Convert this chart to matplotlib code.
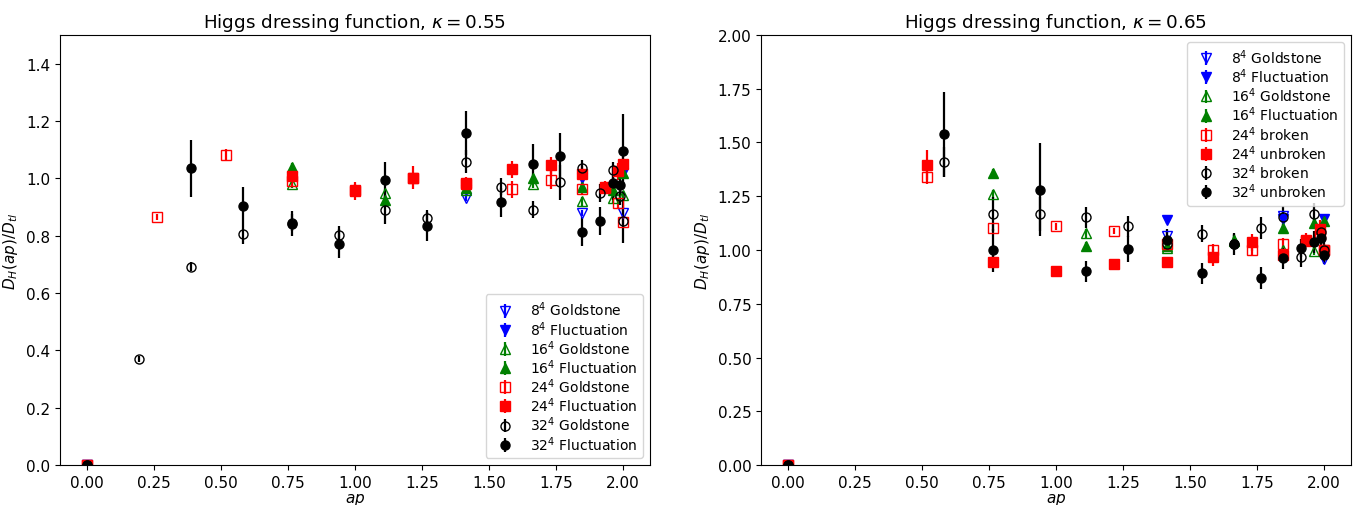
import numpy as np
import matplotlib
matplotlib.use('Agg')
import matplotlib.pyplot as plt

plt.rcParams['font.size'] = 11

# kappa = 0.55
x8 = [0, 1.414, 1.848, 2.0]
k55_8g = [0, 0.93, 0.88, 0.88]
k55_8g_err = [0.005, 0.01, 0.01, 0.01]
k55_8f = [0, 0.96, 1.00, 1.02]
k55_8f_err = [0.005, 0.01, 0.01, 0.01]

x16 = [0, 0.765, 1.111, 1.414, 1.663, 1.848, 1.962, 2.0]
k55_16g = [0, 0.98, 0.947, 0.96, 0.98, 0.92, 0.93, 0.94]
k55_16g_err = [0.005, 0.015, 0.015, 0.015, 0.015, 0.015, 0.015, 0.015]
k55_16f = [0, 1.04, 0.923, 0.965, 1.0, 0.97, 0.96, 1.02]
k55_16f_err = [0.005, 0.015, 0.015, 0.015, 0.015, 0.015, 0.015, 0.015]

x24g_55 = [0, 0.261, 0.518, 0.765, 1.0, 1.218, 1.414, 1.587, 1.732, 1.848, 1.932, 1.983, 2.0]
k55_24g = [0, 0.865, 1.081, 0.99, 0.96, 1.0, 0.98, 0.962, 0.994, 0.961, 0.97, 0.913, 0.849]
k55_24g_err = [0.005, 0.01, 0.02, 0.02, 0.02, 0.02, 0.02, 0.03, 0.03, 0.02, 0.02, 0.02, 0.02]
x24f_55 = [0, 0.765, 1.0, 1.218, 1.414, 1.587, 1.732, 1.848, 1.932, 1.983, 2.0]
k55_24f = [0, 1.008, 0.956, 1.002, 0.984, 1.031, 1.045, 1.014, 0.967, 1.025, 1.049]
k55_24f_err = [0.005, 0.02, 0.03, 0.04, 0.02, 0.03, 0.03, 0.03, 0.02, 0.03, 0.03]

x32g_55 = [0, 0.196, 0.390, 0.581, 0.765, 0.942, 1.111, 1.269, 1.414, 1.546, 1.663,
           1.764, 1.848, 1.914, 1.962, 1.990, 2.0]
k55_32g = [0, 0.369, 0.692, 0.805, 0.845, 0.802, 0.891, 0.861, 1.057, 0.970, 0.890,
           0.986, 1.035, 0.949, 1.028, 0.938, 0.85]
k55_32g_err = [0.005, 0.01, 0.015, 0.035, 0.03, 0.03, 0.05, 0.03, 0.04, 0.03, 0.03,
               0.06, 0.03, 0.03, 0.03, 0.03, 0.077]
x32f_55 = [0, 0.390, 0.581, 0.765, 0.942, 1.111, 1.269, 1.414, 1.546, 1.663, 1.764,
           1.848, 1.914, 1.962, 1.990, 2.0]
k55_32f = [0, 1.035, 0.905, 0.842, 0.772, 0.993, 0.833, 1.157, 0.916, 1.050, 1.078,
           0.814, 0.851, 0.984, 0.977, 1.095]
k55_32f_err = [0.005, 0.10, 0.066, 0.045, 0.05, 0.063, 0.05, 0.076, 0.05, 0.07, 0.08,
               0.05, 0.05, 0.06, 0.06, 0.13]

# kappa = 0.65
k65_8g = [0, 1.067, 1.16, 0.96]
k65_8g_err = [0.005, 0.02, 0.02, 0.02]
k65_8f = [0, 1.141, 1.145, 1.144]
k65_8f_err = [0.005, 0.02, 0.02, 0.02]

k65_16g = [0, 1.26, 1.078, 1.01, 1.04, 1.0, 0.997, 1.0]
k65_16g_err = [0.005, 0.02, 0.02, 0.02, 0.03, 0.02, 0.02, 0.02]
k65_16f = [0, 1.358, 1.017, 1.02, 1.045, 1.102, 1.125, 1.133]
k65_16f_err = [0.005, 0.02, 0.02, 0.02, 0.03, 0.02, 0.02, 0.02]

x24_65 = [0, 0.518, 0.765, 1.0, 1.218, 1.414, 1.587, 1.732, 1.848, 1.932, 1.983, 2.0]
k65_24g = [0, 1.338, 1.104, 1.110, 1.088, 1.03, 1.0, 1.0, 1.028, 1.04, 1.07, 1.0]
k65_24g_err = [0.005, 0.03, 0.02, 0.015, 0.015, 0.02, 0.03, 0.03, 0.03, 0.02, 0.03, 0.02]
k65_24f = [0, 1.394, 0.946, 0.904, 0.937, 0.943, 0.966, 1.036, 0.978, 1.048, 1.098, 1.0]
k65_24f_err = [0.005, 0.07, 0.03, 0.02, 0.015, 0.02, 0.04, 0.04, 0.03, 0.03, 0.04, 0.03]

x32_65 = [0, 0.581, 0.765, 0.942, 1.111, 1.269, 1.414, 1.546, 1.663, 1.764, 1.848,
          1.914, 1.962, 1.990, 2.0]
k65_32g = [0, 1.409, 1.166, 1.166, 1.152, 1.110, 1.03, 1.076, 1.03, 1.102, 1.155,
           0.969, 1.167, 1.082, 1.0]
k65_32g_err = [0.005, 0.07, 0.08, 0.08, 0.05, 0.05, 0.03, 0.04, 0.03, 0.05, 0.05,
               0.05, 0.05, 0.04, 0.04]
k65_32f = [0, 1.538, 0.998, 1.281, 0.901, 1.005, 1.048, 0.891, 1.028, 0.870, 0.961,
           1.009, 1.036, 1.056, 0.975]
k65_32f_err = [0.005, 0.197, 0.1, 0.215, 0.05, 0.06, 0.05, 0.05, 0.05, 0.05, 0.05,
               0.04, 0.05, 0.04, 0.04]


def series(ax, x, y, err, fmt, color, filled, label):
	ax.errorbar(x, y, yerr=err, fmt=fmt, color=color, ecolor=color, markersize=6.5,
				markerfacecolor=color if filled else 'none', elinewidth=1.6, label=label)


fig = plt.figure(figsize=(13.53, 5.06), dpi=100)
ax1 = fig.add_axes([0.0443, 0.079, 0.436, 0.85])
ax2 = fig.add_axes([0.5625, 0.079, 0.436, 0.85])

series(ax1, x8, k55_8g, k55_8g_err, 'v', 'blue', False, '$8^4$ Goldstone')
series(ax1, x8, k55_8f, k55_8f_err, 'v', 'blue', True, '$8^4$ Fluctuation')
series(ax1, x16, k55_16g, k55_16g_err, '^', 'green', False, '$16^4$ Goldstone')
series(ax1, x16, k55_16f, k55_16f_err, '^', 'green', True, '$16^4$ Fluctuation')
series(ax1, x24g_55, k55_24g, k55_24g_err, 's', 'red', False, '$24^4$ Goldstone')
series(ax1, x24f_55, k55_24f, k55_24f_err, 's', 'red', True, '$24^4$ Fluctuation')
series(ax1, x32g_55, k55_32g, k55_32g_err, 'o', 'black', False, '$32^4$ Goldstone')
series(ax1, x32f_55, k55_32f, k55_32f_err, 'o', 'black', True, '$32^4$ Fluctuation')

series(ax2, x8, k65_8g, k65_8g_err, 'v', 'blue', False, '$8^4$ Goldstone')
series(ax2, x8, k65_8f, k65_8f_err, 'v', 'blue', True, '$8^4$ Fluctuation')
series(ax2, x16, k65_16g, k65_16g_err, '^', 'green', False, '$16^4$ Goldstone')
series(ax2, x16, k65_16f, k65_16f_err, '^', 'green', True, '$16^4$ Fluctuation')
series(ax2, x24_65, k65_24g, k65_24g_err, 's', 'red', False, '$24^4$ broken')
series(ax2, x24_65, k65_24f, k65_24f_err, 's', 'red', True, '$24^4$ unbroken')
series(ax2, x32_65, k65_32g, k65_32g_err, 'o', 'black', False, '$32^4$ broken')
series(ax2, x32_65, k65_32f, k65_32f_err, 'o', 'black', True, '$32^4$ unbroken')

ax1.set_ylim(0, 1.5)
ax1.set_yticks(np.arange(0, 1.41, 0.2))
ax1.set_title(r'Higgs dressing function, $\kappa = 0.55$')
ax1.legend(loc='lower right', fontsize=10, labelspacing=0.04)

ax2.set_ylim(0, 2.0)
ax2.set_yticks(np.arange(0, 2.01, 0.25))
ax2.yaxis.set_major_formatter(matplotlib.ticker.FormatStrFormatter('%.2f'))
ax2.set_title(r'Higgs dressing function, $\kappa = 0.65$')
ax2.legend(loc='upper right', fontsize=10, labelspacing=0.04)

for ax in (ax1, ax2):
	ax.set_xlim(-0.1, 2.1)
	ax.set_xticks(np.arange(0, 2.01, 0.25))
	ax.xaxis.set_major_formatter(matplotlib.ticker.FormatStrFormatter('%.2f'))
	ax.set_xlabel('$ap$', labelpad=1)
	ax.set_ylabel('$D_H(ap)/D_{tl}$')

plt.savefig('out.png', dpi=100)
